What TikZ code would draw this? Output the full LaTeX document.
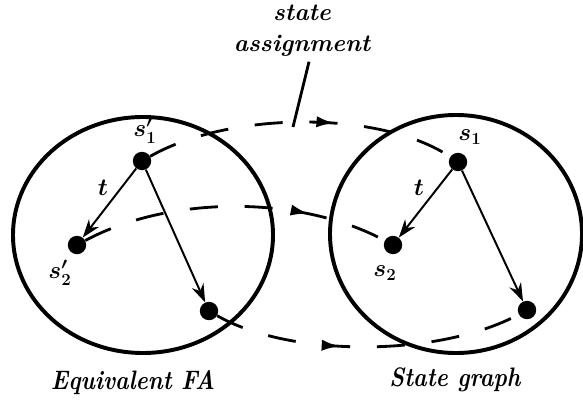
\documentclass[tikz,border=0pt]{standalone}
\usetikzlibrary{arrows.meta,decorations.markings}

\begin{document}
\begin{tikzpicture}[x=0.025cm,y=0.025cm,
    state/.style={circle,fill,inner sep=0pt,minimum size=0.46cm},
    region/.style={line width=2.8pt},
    trans/.style={-{Stealth[length=13pt,width=9pt]},line width=1.4pt},
    assign/.style={line width=2pt,dash pattern=on 20pt off 19pt,
        postaction={decorate,decoration={markings,
            mark=at position #1 with {\arrow{Latex[length=13pt,width=8pt]}}}}},
    lbl/.style={font=\LARGE\bfseries\itshape},
    bottom/.style={font=\fontsize{19}{22}\selectfont\bfseries\itshape,xscale=0.86},
    sname/.style={font=\LARGE\boldmath}]
    \useasboundingbox (0,0) rectangle (583,402);

    % the two state sets
    \draw[region] (143,167) ellipse [x radius=130, y radius=118];
    \draw[region] (456,168) ellipse [x radius=126, y radius=119];

    % equivalent FA
    \node[state] (a1) at (142,241) {};
    \node[state] (a2) at (77,157) {};
    \node[state] (a3) at (209,91) {};
    \node[sname] (a1l) at (145,271) {$s'_1$};
    \node[sname] (a2l) at (60,129) {$s'_2$};
    \draw[trans] (a1) -- (a2) node[sname,pos=0.45,above left=-1pt] (ta) {$t$};
    \draw[trans] (a1) -- (a3);

    % state graph
    \node[state] (b1) at (458,240) {};
    \node[state] (b2) at (393,157) {};
    \node[state] (b3) at (527,92) {};
    \node[sname] (b1l) at (470,265) {$s_1$};
    \node[sname] (b2l) at (385,129) {$s_2$};
    \draw[trans] (b1) -- (b2) node[sname,pos=0.45,above left=-1pt] (tb) {$t$};
    \draw[trans] (b1) -- (b3);

    % assignment of states
    \draw[assign=0.61] (a1) .. controls +(88,50) and +(-78,52) .. (b1);
    \draw[assign=0.74] (a2) .. controls +(93,50) and +(-93,50) .. (b2);
    \draw[assign=0.41] (a3) .. controls +(82,-47) and +(-87,-47) .. (b3);

    \node[lbl,align=center] (sa) at (302,371) {state\\assignment};
    \coordinate (tip) at (293,275);
    \draw[line width=2pt] ([xshift=5pt]sa.south) -- (tip);

    \node[bottom] (fa) at (133,19) {Equivalent FA};
    \node[bottom] (sg) at (455,22) {State graph};
\end{tikzpicture}
\end{document}
